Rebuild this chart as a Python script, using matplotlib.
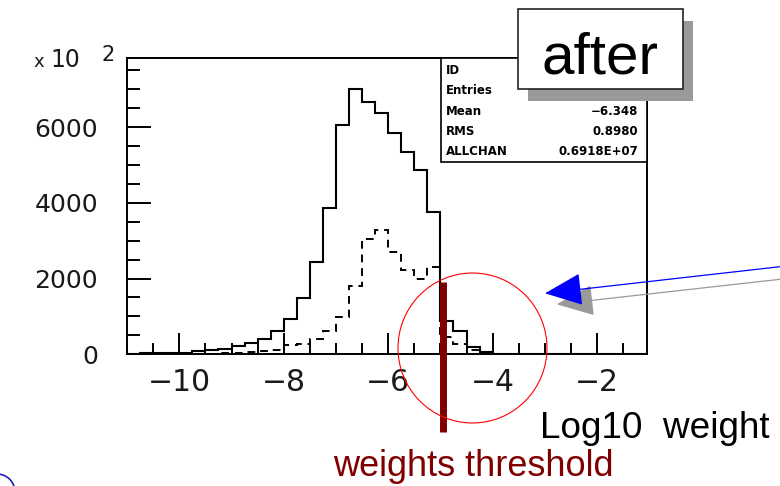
import numpy as np
import matplotlib
matplotlib.use("Agg")
import matplotlib.pyplot as plt
from matplotlib.patches import Rectangle, Ellipse, FancyArrowPatch
from matplotlib.ticker import MultipleLocator

W, H = 780, 486

# histogram data, 0.25 wide bins from -11 to -1 (axis units are x 10^2)
bin_lo = -11.0
bin_w = 0.25
all_w = [0, 25, 30, 35, 44, 89, 107, 151, 222, 302,
         400, 622, 922, 1480, 2449, 3859, 6044, 7004, 6669, 6370,
         5841, 5339, 4854, 3753, 880, 620, 185, 60, 0, 0,
         0, 0, 0, 0, 0, 0, 0, 0, 0, 0]
sel_w = [0, 5, 8, 10, 12, 15, 20, 30, 40, 55,
         89, 124, 240, 284, 391, 622, 996, 1806, 3048, 3286,
         2696, 2229, 1982, 2317, 450, 260, 120, 30, 0, 0,
         0, 0, 0, 0, 0, 0, 0, 0, 0, 0]
threshold = -4.95

stat_names = ["ID", "Entries", "Mean", "RMS", "ALLCHAN"]
stat_vals = ["", "", "\u22126.348", "0.8980", "0.6918E+07"]


def fx(x):
    return x / W


def fy(y):
    return 1 - y / H


fig = plt.figure(figsize=(W / 100, H / 100), dpi=100)
fig.patch.set_facecolor("white")

left, right, top, bottom = 127.1, 646.7, 58.3, 354.3
ax = fig.add_axes([fx(left), fy(bottom), (right - left) / W, (bottom - top) / H])

edges = bin_lo + bin_w * np.arange(len(all_w) + 1)
ax.stairs(all_w, edges, color="black", lw=1.5)
ax.stairs(sel_w, edges, color="black", lw=1.4, linestyle=(0, (4, 3)))

ax.set_xlim(-11, -1.05)
ax.set_ylim(0, 7816)

for s in ax.spines.values():
    s.set_linewidth(1.4)

ax.xaxis.set_major_locator(MultipleLocator(2))
ax.xaxis.set_minor_locator(MultipleLocator(0.5))
ax.yaxis.set_major_locator(MultipleLocator(2000))
ax.yaxis.set_minor_locator(MultipleLocator(500))
ax.tick_params(axis="x", which="major", direction="in", length=15, width=1.4,
               labelsize=21.5, pad=10, labelcolor="#1a1a1a")
ax.tick_params(axis="x", which="minor", direction="in", length=8, width=1.4)
ax.tick_params(axis="y", which="major", direction="in", length=17, width=1.4,
               labelsize=18, pad=21, labelcolor="#1a1a1a")
ax.tick_params(axis="y", which="minor", direction="in", length=9.5, width=1.4)
ax.set_xticklabels([f"\u2212{abs(int(t))}" for t in ax.get_xticks()])
ax.set_yticklabels([f"{int(t)}" for t in ax.get_yticks()])

# exponent label
fig.text(fx(33), fy(67), "x", fontsize=13, color="#1a1a1a", va="baseline")
fig.text(fx(50), fy(67), "10", fontsize=17, color="#1a1a1a", va="baseline")
fig.text(fx(101), fy(61), "2", fontsize=15, color="#1a1a1a", va="baseline")

# threshold line
ax.plot([threshold, threshold], [1920, -2054], color="#800000", lw=5,
        solid_capstyle="butt", clip_on=False, zorder=5)

# stats box
fig.add_artist(Rectangle((fx(441), fy(162)), (647 - 441) / W, (162 - 58) / H,
                         transform=fig.transFigure, facecolor="white",
                         edgecolor="black", lw=1.2, zorder=3))
row_y = [70, 90.7, 111.7, 131.7, 151.7]
for name, val, yy in zip(stat_names, stat_vals, row_y):
    fig.text(fx(446), fy(yy), name, fontsize=8.5, fontweight="bold",
             va="center", ha="left", zorder=4)
    fig.text(fx(638), fy(yy), val, fontsize=8.5, fontweight="bold",
             va="center", ha="right", zorder=4)

# red circle
fig.add_artist(Ellipse((fx(472.5), fy(348)), 149 / W, 150 / H,
                       transform=fig.transFigure, fill=False,
                       edgecolor="red", lw=0.8, zorder=6))

# arrows
fig.add_artist(FancyArrowPatch((fx(780), fy(279.3)), (fx(556.7), fy(304.3)),
                               transform=fig.transFigure,
                               arrowstyle="-|>,head_length=1.2,head_width=0.5",
                               mutation_scale=20, color="#9a9a9a", lw=0.9,
                               shrinkA=0, shrinkB=0, zorder=6))
fig.add_artist(FancyArrowPatch((fx(780), fy(266.7)), (fx(545), fy(293.3)),
                               transform=fig.transFigure,
                               arrowstyle="-|>,head_length=1.2,head_width=0.52",
                               mutation_scale=20, color="blue", lw=0.9,
                               shrinkA=0, shrinkB=0, zorder=7))

# "after" box with shadow
fig.add_artist(Rectangle((fx(528), fy(101)), (683 - 518) / W, (89 - 9) / H,
                         transform=fig.transFigure, facecolor="#999999",
                         edgecolor="none", zorder=8))
fig.add_artist(Rectangle((fx(518), fy(89)), (683 - 518) / W, (89 - 9) / H,
                         transform=fig.transFigure, facecolor="white",
                         edgecolor="#222222", lw=1.2, zorder=9))
fig.text(fx(600), fy(73), "after", fontsize=42, family="Liberation Sans",
         ha="center", va="baseline", zorder=10)

fig.text(fx(540), fy(438), "Log10  weight", fontsize=26.6,
         family="Liberation Sans", va="baseline")
fig.text(fx(333), fy(476), "weights threshold", fontsize=26,
         family="Liberation Sans", color="#800000", va="baseline")

# partial blue circle in the corner
fig.add_artist(Ellipse((fx(-3), fy(492)), 36 / W, 36 / H,
                       transform=fig.transFigure, fill=False,
                       edgecolor="#2020c0", lw=1.2, zorder=6))

fig.savefig("out.png", dpi=100)
